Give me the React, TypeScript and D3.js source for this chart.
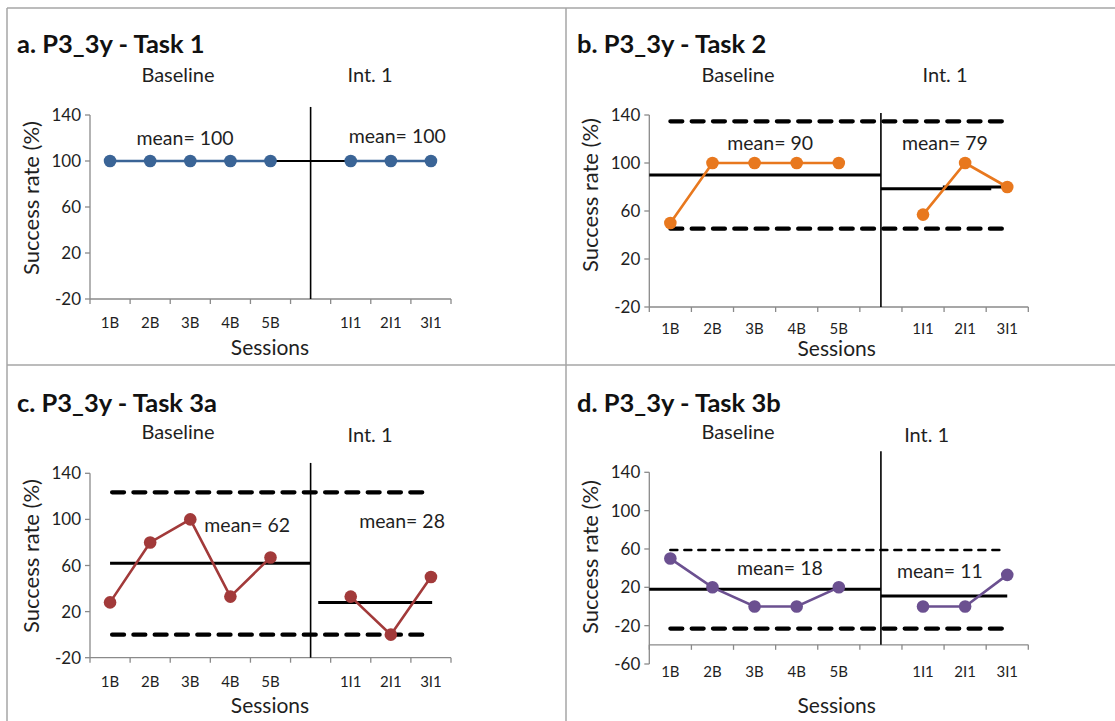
import React from "react";
import * as d3 from "d3";

// ---------- data ----------
const categories = ["1B", "2B", "3B", "4B", "5B", "", "1I1", "2I1", "3I1"];
const task1 = [100, 100, 100, 100, 100, null, 100, 100, 100];
const task2 = [50, 100, 100, 100, 100, null, 57, 100, 80];
const task3a = [28, 80, 100, 33, 67, null, 33, 0, 50];
const task3b = [50, 20, 0, 0, 20, null, 0, 0, 33];

const titles = ["a. P3_3y - Task 1", "b. P3_3y - Task 2", "c. P3_3y - Task 3a", "d. P3_3y - Task 3b"];
const baselineMeans = [100, 90, 62, 18];
const interventionMeans = [100, 79, 28, 11];
const ticksA = [-20, 20, 60, 100, 140];
const ticksD = [-60, -20, 20, 60, 100, 140];

// mean lines in category units: [from, to, value]
const meanSegA = [[0, 5, 100], [5, 8, 100]];
const meanSegB = [[-0.5, 5, 90], [5, 7.62, 78.5], [6.47, 8.02, 80]];
const meanSegC = [[0, 5, 62], [5.19, 8.03, 28]];
const meanSegD = [[-0.5, 5, 18], [5, 8, 11]];
// +/- 2SD bands: [from, to, value, thin?]
const bandB = [[0, 8, 134.7, 0], [0, 8, 45.3, 0]];
const bandC = [[0.05, 7.8, 123.5, 0], [0.05, 7.8, 0, 0]];
const bandD = [[0, 7.9, 59, 1], [0, 7.9, -23, 0]];
// mean label anchors: [categoryPos, value]
const meanLblA = [[1.87, 114], [7.16, 115.6]];
const meanLblB = [[2.37, 110.8], [6.52, 110.8]];
const meanLblC = [[3.42, 89.3], [7.28, 92.5]];
const meanLblD = [[2.6, 32.8], [6.4, 29.7]];

const FONT = "Lato, 'Open Sans', sans-serif";
const TXT = "#1f1f1f";
const AX = "#8a8a8a";

const panels = [
  {
    title: titles[0], values: task1, color: "#3A6496", means: [baselineMeans[0], interventionMeans[0]],
    meanSeg: meanSegA, meanW: 2, band: [], meanLbl: meanLblA, ticks: ticksA, domain: [-20, 140], cross: -20,
    xL: 90, xR: 451, yTop: 115, yBot: 299, titleX: 17, titleY: 53, phaseY: [82, 82], phaseX: [178, 370],
    tickY: 328, sessX: 270, sessY: 355, yTitleX: 39, yTitleY: 198, phaseTop: 147,
  },
  {
    title: titles[1], values: task2, color: "#E8781E", means: [baselineMeans[1], interventionMeans[1]],
    meanSeg: meanSegB, meanW: 3, band: bandB, meanLbl: meanLblB, ticks: ticksA, domain: [-20, 140], cross: -20,
    xL: 649.3, xR: 1028.3, yTop: 115, yBot: 307, titleX: 577, titleY: 53, phaseY: [82, 82], phaseX: [738, 945],
    tickY: 334, sessX: 836.7, sessY: 356, yTitleX: 598, yTitleY: 195, phaseTop: 141.7,
  },
  {
    title: titles[2], values: task3a, color: "#A23A3A", means: [baselineMeans[2], interventionMeans[2]],
    meanSeg: meanSegC, meanW: 3, band: bandC, meanLbl: meanLblC, ticks: ticksA, domain: [-20, 140], cross: -20,
    xL: 90, xR: 451, yTop: 473.3, yBot: 657.7, titleX: 17, titleY: 411.7, phaseY: [439, 442], phaseX: [178, 370],
    tickY: 686.7, sessX: 270, sessY: 713, yTitleX: 39, yTitleY: 556, phaseTop: 149,
  },
  {
    title: titles[3], values: task3b, color: "#6B5090", means: [baselineMeans[3], interventionMeans[3]],
    meanSeg: meanSegD, meanW: 3, band: bandD, meanLbl: meanLblD, ticks: ticksD, domain: [-60, 140], cross: -40,
    xL: 649.3, xR: 1028.3, yTop: 472.3, yBot: 664, titleX: 577, titleY: 411.7, phaseY: [439, 442], phaseX: [738, 926.7],
    tickY: 676.7, sessX: 836.7, sessY: 713, yTitleX: 598, yTitleY: 557, phaseTop: 162,
  },
];

function Panel({ p }: { p: any }) {
  const x = d3.scaleLinear().domain([-0.5, categories.length - 0.5]).range([p.xL, p.xR]);
  const y = d3.scaleLinear().domain(p.domain).range([p.yBot, p.yTop]);
  const idx = d3.range(categories.length);
  const line = d3
    .line<number>()
    .defined((i) => p.values[i] != null)
    .x((i) => x(i))
    .y((i) => y(p.values[i] as number));
  const bounds = d3.range(categories.length + 1).map((k) => k - 0.5);
  const yCross = y(p.cross);
  return (
    <g>
      <text x={p.titleX} y={p.titleY} fontFamily={FONT} fontWeight={700} fontSize={25.5} fill="#111">
        {p.title}
      </text>
      <text x={p.phaseX[0]} y={p.phaseY[0]} textAnchor="middle" fontFamily={FONT} fontSize={20} fill={TXT}>
        Baseline
      </text>
      <text x={p.phaseX[1]} y={p.phaseY[1]} textAnchor="middle" fontFamily={FONT} fontSize={20} fill={TXT}>
        Int. 1
      </text>
      {/* y axis */}
      <line x1={p.xL} x2={p.xL} y1={y(p.domain[1])} y2={y(p.domain[0])} stroke={AX} strokeWidth={1.3} />
      {p.ticks.map((t: number) => (
        <g key={t}>
          <line x1={p.xL - 5} x2={p.xL} y1={y(t)} y2={y(t)} stroke={AX} strokeWidth={1.3} />
          <text x={p.xL - 9} y={y(t) + 6} textAnchor="end" fontFamily={FONT} fontSize={17} fill={TXT}>
            {t}
          </text>
        </g>
      ))}
      {/* x axis */}
      <line x1={p.xL} x2={p.xR} y1={yCross} y2={yCross} stroke={AX} strokeWidth={1.3} />
      {bounds.map((b) => (
        <line key={b} x1={x(b)} x2={x(b)} y1={yCross} y2={yCross + 5} stroke={AX} strokeWidth={1.3} />
      ))}
      {idx.map((i) => (
        <text key={i} x={x(i)} y={p.tickY} textAnchor="middle" fontFamily={FONT} fontSize={15} fill={TXT}>
          {categories[i]}
        </text>
      ))}
      <text x={p.sessX} y={p.sessY} textAnchor="middle" fontFamily={FONT} fontSize={21} fill={TXT}>
        Sessions
      </text>
      <text
        transform={`translate(${p.yTitleX},${p.yTitleY}) rotate(-90)`}
        textAnchor="middle"
        fontFamily={FONT}
        fontSize={22}
        fill={TXT}
      >
        Success rate (%)
      </text>
      {/* bands */}
      {p.band.map((b: number[], k: number) => (
        <line
          key={k}
          x1={x(b[0])}
          x2={x(b[1])}
          y1={y(b[2])}
          y2={y(b[2])}
          stroke="#000"
          strokeWidth={b[3] ? 2.5 : 4.2}
          strokeLinecap="round"
          strokeDasharray={b[3] ? "7 7" : "12 9.3"}
        />
      ))}
      {/* phase line */}
      <line x1={x(5)} x2={x(5)} y1={y(p.phaseTop)} y2={yCross} stroke="#000" strokeWidth={1.6} />
      {/* mean lines */}
      {p.meanSeg.map((s: number[], k: number) => (
        <line key={k} x1={x(s[0])} x2={x(s[1])} y1={y(s[2])} y2={y(s[2])} stroke="#000" strokeWidth={p.meanW} />
      ))}
      {/* series */}
      <path d={line(idx) || ""} fill="none" stroke={p.color} strokeWidth={2.6} />
      {idx
        .filter((i) => p.values[i] != null)
        .map((i) => (
          <circle key={i} cx={x(i)} cy={y(p.values[i])} r={6.3} fill={p.color} />
        ))}
      {/* mean labels */}
      {p.meanLbl.map((m: number[], k: number) => (
        <text key={k} x={x(m[0])} y={y(m[1])} textAnchor="middle" fontFamily={FONT} fontSize={19.5} fill={TXT}>
          {`mean= ${p.means[k]}`}
        </text>
      ))}
    </g>
  );
}

export default function App() {
  return (
    <svg
      width={1115}
      height={721}
      style={{ position: "absolute", left: 0, top: 0, background: "#fff" }}
    >
      <rect x={0} y={0} width={1115} height={721} fill="#fff" />
      <line x1={7} x2={1115} y1={8} y2={8} stroke="#a6a6a6" strokeWidth={1.5} />
      <line x1={7} x2={1115} y1={365} y2={365} stroke="#a6a6a6" strokeWidth={1.5} />
      <line x1={7} x2={7} y1={8} y2={721} stroke="#a6a6a6" strokeWidth={1.5} />
      <line x1={566} x2={566} y1={8} y2={721} stroke="#a6a6a6" strokeWidth={1.5} />
      {panels.map((p, k) => (
        <Panel key={k} p={p} />
      ))}
    </svg>
  );
}
